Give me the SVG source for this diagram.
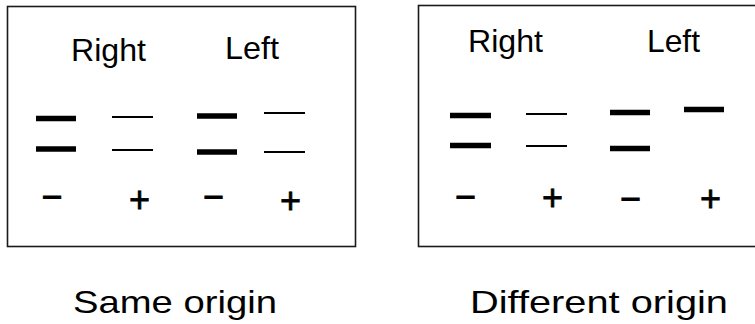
<svg xmlns="http://www.w3.org/2000/svg" width="755" height="324" viewBox="0 0 755 324">
  <style>
    .box{fill:#fff;stroke:#1a1a1a;stroke-width:1.6}
    .thick{stroke:#000;stroke-width:5.5}
    .thin{stroke:#000;stroke-width:1.8}
    .hdr{font-family:"Liberation Sans",Arial,sans-serif;font-size:32px;fill:#000}
    .sign{font-family:"Liberation Sans",Arial,sans-serif;font-size:36px;fill:#000;stroke:#000;stroke-width:0.8;text-anchor:middle}
    .cap{font-family:"Liberation Sans",Arial,sans-serif;font-size:32px;fill:#000}
  </style>
  <rect width="755" height="324" fill="#fff"/>
  <g id="panel-same">
    <rect class="box" x="7.5" y="6.5" width="348" height="240"/>
    <text class="hdr" x="71" y="61" textLength="75" lengthAdjust="spacingAndGlyphs">Right</text>
    <text class="hdr" x="225" y="59" textLength="54" lengthAdjust="spacingAndGlyphs">Left</text>
    <line class="thick" x1="36" y1="118.5" x2="76" y2="118.5"/>
    <line class="thick" x1="36" y1="149" x2="76" y2="149"/>
    <line class="thin" x1="112" y1="117" x2="153" y2="117"/>
    <line class="thin" x1="112" y1="150" x2="153" y2="150"/>
    <line class="thick" x1="197" y1="116" x2="237" y2="116"/>
    <line class="thick" x1="197" y1="152" x2="237" y2="152"/>
    <line class="thin" x1="264" y1="113" x2="305" y2="113"/>
    <line class="thin" x1="264" y1="152" x2="305" y2="152"/>
    <text class="sign" x="52" y="209">−</text>
    <text class="sign" x="139.5" y="212">+</text>
    <text class="sign" x="213.5" y="209">−</text>
    <text class="sign" x="290.5" y="213">+</text>
  </g>
  <g id="panel-different">
    <rect class="box" x="418.5" y="5.5" width="345" height="241"/>
    <text class="hdr" x="468" y="52" textLength="75" lengthAdjust="spacingAndGlyphs">Right</text>
    <text class="hdr" x="647" y="52" textLength="53" lengthAdjust="spacingAndGlyphs">Left</text>
    <line class="thick" x1="450" y1="115.5" x2="491" y2="115.5"/>
    <line class="thick" x1="450" y1="145.5" x2="491" y2="145.5"/>
    <line class="thin" x1="526" y1="114" x2="567" y2="114"/>
    <line class="thin" x1="526" y1="146" x2="567" y2="146"/>
    <line class="thick" x1="610" y1="112.5" x2="650" y2="112.5"/>
    <line class="thick" x1="610" y1="148.5" x2="650" y2="148.5"/>
    <line class="thick" x1="684" y1="109.5" x2="724" y2="109.5"/>
    <text class="sign" x="465.5" y="209">−</text>
    <text class="sign" x="552.5" y="210">+</text>
    <text class="sign" x="630.5" y="211">−</text>
    <text class="sign" x="710.5" y="211">+</text>
  </g>
  <g id="captions">
    <text class="cap" x="73" y="313" textLength="204" lengthAdjust="spacingAndGlyphs">Same origin</text>
    <text class="cap" x="470" y="313" textLength="258" lengthAdjust="spacingAndGlyphs">Different origin</text>
  </g>
</svg>
